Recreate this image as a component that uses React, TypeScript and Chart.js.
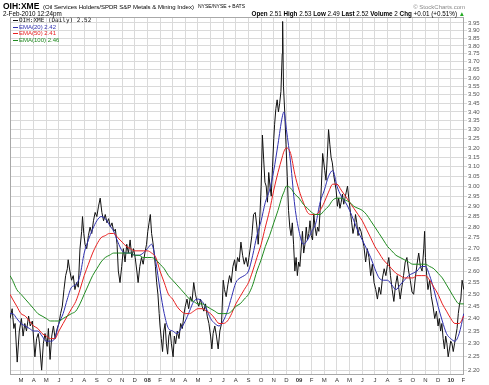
import React, { useEffect, useRef } from "react";
import { Chart, registerables } from "chart.js";
Chart.register(...registerables);

const FONT = '"Liberation Sans", Arial, Helvetica, sans-serif';
const MONO = '"DejaVu Sans Mono", "Liberation Mono", monospace';

// ---- price series (OIH:XME daily close, sampled) ----
const priceDates = [
  "2007-02-05","2007-02-10","2007-02-14","2007-02-17","2007-02-22","2007-02-27",
  "2007-03-02","2007-03-06","2007-03-10","2007-03-14","2007-03-19","2007-03-23","2007-03-28",
  "2007-04-04","2007-04-08","2007-04-12","2007-04-15","2007-04-20","2007-04-24","2007-04-28",
  "2007-05-03","2007-05-06","2007-05-10","2007-05-14","2007-05-18","2007-05-22","2007-05-27",
  "2007-06-01","2007-06-05","2007-06-09","2007-06-13","2007-06-17","2007-06-21","2007-06-23","2007-06-27",
  "2007-07-01","2007-07-05","2007-07-09","2007-07-13","2007-07-17","2007-07-21","2007-07-25","2007-07-27","2007-07-30",
  "2007-08-03","2007-08-07","2007-08-11","2007-08-15","2007-08-19","2007-08-23","2007-08-27",
  "2007-09-01","2007-09-05","2007-09-09","2007-09-13","2007-09-17","2007-09-21","2007-09-25","2007-09-29",
  "2007-10-03","2007-10-07","2007-10-11","2007-10-15","2007-10-19","2007-10-22","2007-10-26","2007-10-30",
  "2007-11-04","2007-11-08","2007-11-12","2007-11-16","2007-11-20","2007-11-24","2007-11-28",
  "2007-12-02","2007-12-06","2007-12-09","2007-12-13","2007-12-17","2007-12-21","2007-12-25","2007-12-29",
  "2008-01-02","2008-01-05","2008-01-08","2008-01-11","2008-01-14","2008-01-17","2008-01-20","2008-01-23","2008-01-26","2008-01-29",
  "2008-02-01","2008-02-04","2008-02-07","2008-02-10","2008-02-13","2008-02-16","2008-02-19","2008-02-22","2008-02-25","2008-02-28",
  "2008-03-02","2008-03-05","2008-03-08","2008-03-12","2008-03-16","2008-03-20","2008-03-24","2008-03-28",
  "2008-04-01","2008-04-05","2008-04-09","2008-04-13","2008-04-17","2008-04-21","2008-04-25","2008-04-29",
  "2008-05-03","2008-05-07","2008-05-11","2008-05-15","2008-05-19","2008-05-23","2008-05-27",
  "2008-06-01","2008-06-04","2008-06-07","2008-06-11","2008-06-15","2008-06-19","2008-06-23","2008-06-27",
  "2008-07-01","2008-07-04","2008-07-08","2008-07-12","2008-07-16","2008-07-20","2008-07-24","2008-07-28",
  "2008-08-01","2008-08-05","2008-08-09","2008-08-13","2008-08-17","2008-08-21","2008-08-25","2008-08-29",
  "2008-09-02","2008-09-05","2008-09-09","2008-09-13","2008-09-17","2008-09-21","2008-09-24","2008-09-28",
  "2008-10-01","2008-10-04","2008-10-07","2008-10-10","2008-10-13","2008-10-16","2008-10-19","2008-10-22","2008-10-25","2008-10-28","2008-10-31",
  "2008-11-03","2008-11-06","2008-11-09","2008-11-12","2008-11-15","2008-11-18","2008-11-21","2008-11-22","2008-11-24","2008-11-27","2008-11-30",
  "2008-12-03","2008-12-06","2008-12-09","2008-12-12","2008-12-15","2008-12-18","2008-12-21","2008-12-24","2008-12-27","2008-12-30",
  "2009-01-03","2009-01-06","2009-01-09","2009-01-12","2009-01-15","2009-01-18","2009-01-21","2009-01-24","2009-01-27","2009-01-30",
  "2009-02-03","2009-02-06","2009-02-09","2009-02-12","2009-02-15","2009-02-18","2009-02-21","2009-02-24","2009-02-27",
  "2009-03-02","2009-03-05","2009-03-08","2009-03-11","2009-03-14","2009-03-17","2009-03-20","2009-03-23","2009-03-26","2009-03-29",
  "2009-04-02","2009-04-05","2009-04-08","2009-04-11","2009-04-14","2009-04-17","2009-04-20","2009-04-23","2009-04-26","2009-04-29",
  "2009-05-03","2009-05-06","2009-05-09","2009-05-12","2009-05-15","2009-05-18","2009-05-21","2009-05-24","2009-05-28",
  "2009-06-01","2009-06-05","2009-06-09","2009-06-13","2009-06-17","2009-06-21","2009-06-25","2009-06-29",
  "2009-07-03","2009-07-07","2009-07-11","2009-07-15","2009-07-19","2009-07-23","2009-07-27","2009-07-31",
  "2009-08-04","2009-08-08","2009-08-12","2009-08-16","2009-08-20","2009-08-24","2009-08-28",
  "2009-09-01","2009-09-05","2009-09-09","2009-09-13","2009-09-17","2009-09-21","2009-09-25","2009-09-29",
  "2009-10-03","2009-10-07","2009-10-11","2009-10-15","2009-10-19","2009-10-23","2009-10-27","2009-10-29",
  "2009-11-01","2009-11-04","2009-11-07","2009-11-11","2009-11-15","2009-11-19","2009-11-23","2009-11-27",
  "2009-12-01","2009-12-04","2009-12-07","2009-12-10","2009-12-13","2009-12-16","2009-12-19","2009-12-22","2009-12-25","2009-12-28",
  "2010-01-01","2010-01-04","2010-01-07","2010-01-10","2010-01-13","2010-01-16","2010-01-19","2010-01-22","2010-01-25","2010-01-28",
  "2010-02-02",
];
const priceValues = [
  2.40,2.44,2.36,2.38,2.23,2.35,
  2.40,2.33,2.38,2.35,2.41,2.37,2.39,
  2.25,2.32,2.34,2.30,2.20,2.30,2.34,
  2.29,2.36,2.24,2.33,2.37,2.32,2.36,
  2.38,2.42,2.45,2.52,2.58,2.61,2.65,2.60,
  2.56,2.58,2.52,2.55,2.53,2.70,2.78,2.85,2.77,
  2.72,2.70,2.76,2.80,2.77,2.83,2.87,
  2.85,2.90,2.94,2.87,2.83,2.86,2.82,2.84,
  2.80,2.82,2.78,2.79,2.72,2.60,2.55,2.62,
  2.70,2.64,2.72,2.68,2.74,2.66,2.70,
  2.66,2.60,2.55,2.62,2.66,2.63,2.68,2.72,
  2.78,2.82,2.86,2.77,2.73,2.68,2.62,2.55,2.50,2.42,
  2.37,2.32,2.27,2.35,2.38,2.30,2.26,2.33,2.35,2.30,
  2.25,2.33,2.30,2.35,2.32,2.38,2.36,2.42,
  2.45,2.48,2.44,2.49,2.47,2.55,2.50,2.47,
  2.45,2.48,2.45,2.43,2.46,2.41,2.38,
  2.33,2.28,2.34,2.37,2.33,2.28,2.35,2.38,
  2.56,2.52,2.49,2.54,2.58,2.55,2.62,2.65,
  2.60,2.66,2.64,2.73,2.67,2.63,2.66,2.62,
  2.66,2.70,2.76,2.86,2.87,2.80,2.72,2.85,
  3.00,3.27,3.14,3.02,3.00,2.92,3.07,3.00,2.95,3.10,3.25,
  3.33,3.42,3.47,3.40,3.45,3.52,3.75,3.96,3.55,3.40,3.22,
  3.05,2.88,2.80,2.76,2.82,2.72,2.60,2.66,2.58,2.64,
  2.62,2.70,2.78,2.68,2.72,2.80,2.74,2.77,2.83,2.76,
  2.74,2.86,2.80,2.76,2.80,2.78,2.88,3.00,3.17,
  3.08,3.03,3.15,3.30,3.22,3.15,3.12,3.06,3.02,2.98,
  2.90,2.94,2.89,2.92,2.96,2.91,2.94,2.97,3.00,2.94,
  2.87,2.82,2.77,2.80,2.86,2.82,2.76,2.80,2.78,
  2.75,2.71,2.64,2.70,2.66,2.58,2.63,2.55,
  2.52,2.48,2.53,2.50,2.57,2.61,2.58,2.63,
  2.66,2.58,2.52,2.47,2.54,2.58,2.52,
  2.48,2.53,2.58,2.64,2.66,2.60,2.56,2.51,
  2.50,2.57,2.63,2.68,2.62,2.60,2.70,2.78,
  2.66,2.58,2.52,2.56,2.49,2.45,2.40,2.43,
  2.37,2.40,2.35,2.38,2.32,2.28,2.33,2.30,2.25,2.28,
  2.31,2.30,2.27,2.30,2.33,2.36,2.42,2.46,2.48,2.56,
  2.52,
];

// ---- moving averages, read on the 1st / 11th / 21st of each month ----
const emaDates = [
  "2007-02-05","2007-02-11","2007-02-21",
  "2007-03-01","2007-03-11","2007-03-21","2007-04-01","2007-04-11","2007-04-21",
  "2007-05-01","2007-05-11","2007-05-21","2007-06-01","2007-06-11","2007-06-21",
  "2007-07-01","2007-07-11","2007-07-21","2007-08-01","2007-08-11","2007-08-21",
  "2007-09-01","2007-09-11","2007-09-21","2007-10-01","2007-10-11","2007-10-21",
  "2007-11-01","2007-11-11","2007-11-21","2007-12-01","2007-12-11","2007-12-21",
  "2008-01-01","2008-01-11","2008-01-21","2008-02-01","2008-02-11","2008-02-21",
  "2008-03-01","2008-03-11","2008-03-21","2008-04-01","2008-04-11","2008-04-21",
  "2008-05-01","2008-05-11","2008-05-21","2008-06-01","2008-06-11","2008-06-21",
  "2008-07-01","2008-07-11","2008-07-21","2008-08-01","2008-08-11","2008-08-21",
  "2008-09-01","2008-09-11","2008-09-21","2008-10-01","2008-10-11","2008-10-21",
  "2008-11-01","2008-11-11","2008-11-21","2008-11-25","2008-12-01","2008-12-11","2008-12-21",
  "2009-01-01","2009-01-11","2009-01-21","2009-02-01","2009-02-11","2009-02-21",
  "2009-03-01","2009-03-11","2009-03-21","2009-04-01","2009-04-11","2009-04-21",
  "2009-05-01","2009-05-11","2009-05-21","2009-06-01","2009-06-11","2009-06-21",
  "2009-07-01","2009-07-11","2009-07-21","2009-08-01","2009-08-11","2009-08-21",
  "2009-09-01","2009-09-11","2009-09-21","2009-10-01","2009-10-11","2009-10-21",
  "2009-11-01","2009-11-11","2009-11-21","2009-12-01","2009-12-11","2009-12-21",
  "2010-01-01","2010-01-11","2010-01-21","2010-02-02",
];
const ema20Values = [
  2.42,2.42,2.40, 2.38,2.37,2.36, 2.35,2.35,2.33, 2.31,2.31,2.32, 2.38,2.42,2.48,
  2.53,2.54,2.58, 2.68,2.74,2.79, 2.83,2.85,2.84, 2.81,2.78,2.73, 2.69,2.68,2.68,
  2.67,2.67,2.68, 2.70,2.72,2.64, 2.52,2.42,2.36, 2.35,2.34,2.36, 2.39,2.43,2.47,
  2.48,2.47,2.44, 2.40,2.38,2.37, 2.39,2.43,2.49, 2.55,2.57,2.58, 2.60,2.67,2.76,
  2.83,2.92,2.98, 3.08,3.22,3.37,3.40, 3.30,3.12,2.90, 2.78,2.72,2.74, 2.78,2.82,2.92,
  2.98,3.05,3.08, 3.00,2.95,2.92, 2.88,2.83,2.78, 2.74,2.70,2.66, 2.61,2.57,2.56,
  2.56,2.54,2.52, 2.54,2.56,2.58, 2.59,2.60,2.62, 2.62,2.58,2.52, 2.45,2.39,2.34,
  2.32,2.31,2.34, 2.42,
];
const ema50Values = [
  2.50,2.48,2.45, 2.42,2.41,2.39, 2.37,2.36,2.34, 2.33,2.32,2.32, 2.35,2.38,2.41,
  2.44,2.47,2.52, 2.58,2.63,2.68, 2.72,2.75,2.76, 2.77,2.77,2.75, 2.73,2.71,2.70,
  2.69,2.69,2.69, 2.69,2.68,2.66, 2.60,2.55,2.50, 2.48,2.45,2.43, 2.42,2.42,2.43,
  2.44,2.44,2.43, 2.42,2.40,2.38, 2.38,2.39,2.42, 2.46,2.49,2.52, 2.55,2.60,2.66,
  2.72,2.80,2.88, 2.98,3.07,3.15,3.18, 3.20,3.17,3.06, 2.98,2.92,2.87, 2.86,2.86,2.88,
  2.92,2.97,3.01, 3.01,2.98,2.95, 2.92,2.89,2.86, 2.83,2.79,2.75, 2.71,2.68,2.65,
  2.63,2.61,2.59, 2.58,2.57,2.57, 2.57,2.58,2.58, 2.58,2.56,2.53, 2.50,2.46,2.43,
  2.40,2.38,2.38, 2.41,
];
const ema100Values = [
  2.58,2.56,2.52, 2.50,2.48,2.46, 2.44,2.42,2.41, 2.40,2.39,2.39, 2.39,2.40,2.41,
  2.42,2.43,2.46, 2.50,2.54,2.58, 2.61,2.64,2.66, 2.67,2.68,2.68, 2.68,2.68,2.68,
  2.67,2.67,2.66, 2.66,2.66,2.65, 2.63,2.61,2.58, 2.56,2.54,2.52, 2.50,2.48,2.47,
  2.46,2.46,2.45, 2.44,2.43,2.42, 2.42,2.42,2.43, 2.45,2.46,2.48, 2.50,2.54,2.60,
  2.65,2.71,2.76, 2.82,2.88,2.95,2.97, 3.00,2.99,2.96, 2.94,2.91,2.89, 2.87,2.86,2.86,
  2.88,2.90,2.93, 2.94,2.94,2.93, 2.92,2.90,2.89, 2.88,2.86,2.83, 2.80,2.77,2.74,
  2.71,2.69,2.67, 2.66,2.65,2.64, 2.63,2.63,2.63, 2.63,2.62,2.61, 2.59,2.57,2.54,
  2.51,2.48,2.46, 2.46,
];

// ---- axis ticks ----
const yTicks = [
  2.20,2.25,2.30,2.35,2.40,2.45,2.50,2.55,2.60,2.65,2.70,2.75,2.80,2.85,2.90,2.95,
  3.00,3.05,3.10,3.15,3.20,3.25,3.30,3.35,3.40,3.45,3.50,3.55,3.60,3.65,3.70,3.75,3.80,3.85,3.90,3.95,
];
const monthLetters = ["J","F","M","A","M","J","J","A","S","O","N","D"];
const monthTicks = [1,2,3,4,5,6,7,8,9,10,11,12,13,14,15,16,17,18,19,20,21,22,23,24,25,26,27,28,29,30,31,32,33,34,35,36];

function toMonthPos(d: string): number {
  const [y, m, day] = d.split("-").map(Number);
  return (y - 2007) * 12 + (m - 2) + (day - 1) / 30;
}
function tickInfo(k: number) {
  const cal = (k + 1) % 12;
  const year = 2007 + Math.floor((k + 1) / 12);
  return cal === 0 ? { label: String(year).slice(2), year: true } : { label: monthLetters[cal], year: false };
}

const framePlugin = {
  id: "frame",
  beforeDatasetsDraw(chart: any) {
    const { ctx, chartArea: a } = chart;
    ctx.save();
    ctx.strokeStyle = "#a8a8a8";
    ctx.lineWidth = 1;
    ctx.strokeRect(Math.round(a.left) + 0.5, Math.round(a.top) + 0.5, Math.round(a.right - a.left) - 1, Math.round(a.bottom - a.top) - 1);
    ctx.restore();
  },
};

function T(props: { x: number; base: number; size: number; children: any; bold?: boolean; color?: string; right?: boolean; family?: string }) {
  const { x, base, size, children, bold, color, right, family } = props;
  const style: any = {
    position: "absolute",
    top: base - 0.8465 * size,
    fontSize: size + "px",
    lineHeight: size + "px",
    fontFamily: family || FONT,
    fontWeight: bold ? "bold" : "normal",
    color: color || "#000",
    whiteSpace: "pre",
  };
  if (right) style.right = 489 - x;
  else style.left = x;
  return <div style={style}>{children}</div>;
}

function LegendRow(props: { y: number; color: string; text: string; mono?: boolean }) {
  const { y, color, text, mono } = props;
  return (
    <>
      <div style={{ position: "absolute", left: 13, top: y - 0.5, width: 5, height: 1, background: color }} />
      <T x={19} base={y + 2} size={6} color={color} family={mono ? MONO : FONT}>{text}</T>
    </>
  );
}

export default function App() {
  const ref = useRef<HTMLCanvasElement | null>(null);
  useEffect(() => {
    if (!ref.current) return;
    const pts = (dates: string[], vals: number[]) => dates.map((d, i) => ({ x: toMonthPos(d), y: vals[i] }));
    const chart = new Chart(ref.current, {
      type: "line",
      data: {
        datasets: [
          { label: "OIH:XME", data: pts(priceDates, priceValues), borderColor: "#111", borderWidth: 1, pointRadius: 0, tension: 0, order: 4 },
          { label: "EMA(20)", data: pts(emaDates, ema20Values), borderColor: "#3030b0", borderWidth: 1, pointRadius: 0, cubicInterpolationMode: "monotone", order: 3 },
          { label: "EMA(50)", data: pts(emaDates, ema50Values), borderColor: "#e82020", borderWidth: 1, pointRadius: 0, cubicInterpolationMode: "monotone", order: 2 },
          { label: "EMA(100)", data: pts(emaDates, ema100Values), borderColor: "#1f8a1f", borderWidth: 1, pointRadius: 0, cubicInterpolationMode: "monotone", order: 1 },
        ],
      } as any,
      options: {
        animation: false,
        responsive: false,
        maintainAspectRatio: false,
        devicePixelRatio: 1,
        layout: { padding: { left: 10, top: 17, right: 0, bottom: 0 } },
        plugins: { legend: { display: false }, tooltip: { enabled: false }, title: { display: false } },
        scales: {
          x: {
            type: "linear",
            min: 0.13,
            max: 36.05,
            afterBuildTicks: (s: any) => { s.ticks = monthTicks.map((v) => ({ value: v })); },
            afterFit: (s: any) => { s.height = 10; },
            ticks: {
              autoSkip: false,
              maxRotation: 0,
              padding: 2,
              color: "#333",
              font: (c: any) => ({ family: FONT, size: 6, weight: c.tick && tickInfo(c.tick.value).year ? "bold" : "normal" }),
              callback: (v: any) => tickInfo(Number(v)).label,
            },
            grid: { color: "#dadada", drawTicks: false },
            border: { display: false },
          },
          y: {
            type: "logarithmic",
            position: "right",
            min: 2.182,
            max: 3.99,
            afterBuildTicks: (s: any) => { s.ticks = yTicks.map((v) => ({ value: v })); },
            afterFit: (s: any) => { s.width = 25; },
            ticks: {
              autoSkip: false,
              padding: 1,
              color: "#555",
              font: { family: FONT, size: 6 },
              callback: (v: any) => Number(v).toFixed(2),
            },
            grid: { color: "#dadada", drawTicks: true, tickLength: 3 },
            border: { display: false },
          },
        },
      } as any,
      plugins: [framePlugin],
    });
    return () => chart.destroy();
  }, []);

  return (
    <div style={{ position: "absolute", left: 0, top: 0, width: 489, height: 385, background: "#fff", overflow: "hidden" }}>
      <canvas ref={ref} width={489} height={385} style={{ position: "absolute", left: 0, top: 0, width: 489, height: 385 }} />
      <T x={3} base={8.8} size={8.5} bold>OIH:XME</T>
      <T x={43} base={8.6} size={6}>(Oil Services Holders/SPDR S&amp;P Metals &amp; Mining Index)</T>
      <T x={198} base={8.6} size={5}>NYSE/NYSE + BATS</T>
      <T x={465} base={8.6} size={6} color="#888" right>© StockCharts.com</T>
      <T x={3} base={16.2} size={6.3}>2-Feb-2010 12:24pm</T>
      <T x={465} base={16.2} size={6.3} right>
        <b>Open</b> 2.51 <b>High</b> 2.53 <b>Low</b> 2.49 <b>Last</b> 2.52 <b>Volume</b> 2 <b>Chg</b> +0.01 (+0.51%) <span style={{ color: "#2a2" }}>▲</span>
      </T>
      <LegendRow y={20.5} color="#111" text="OIH:XME (Daily) 2.52" mono />
      <LegendRow y={27} color="#3030b0" text="EMA(20) 2.42" />
      <LegendRow y={33.5} color="#e82020" text="EMA(50) 2.41" />
      <LegendRow y={40} color="#1f8a1f" text="EMA(100) 2.46" />
    </div>
  );
}
